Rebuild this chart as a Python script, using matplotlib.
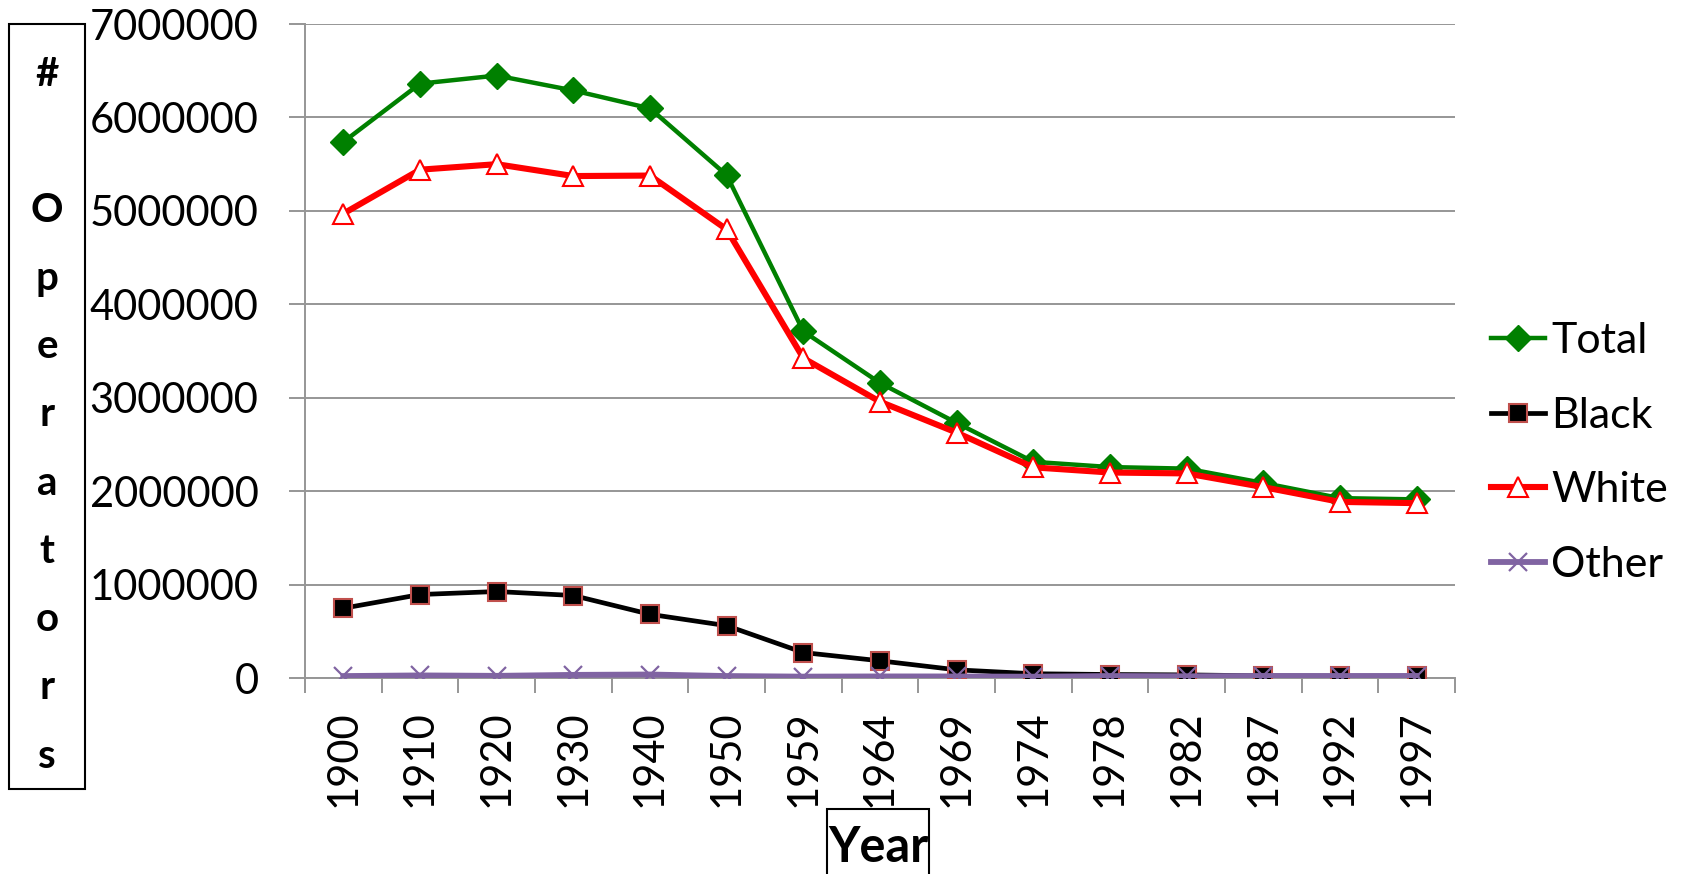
import numpy as np
import matplotlib
matplotlib.use("Agg")
import matplotlib.pyplot as plt
from matplotlib.patches import Rectangle

plt.rcParams['font.family'] = ['Lato', 'DejaVu Sans']

# data
years = ['1900', '1910', '1920', '1930', '1940', '1950', '1959', '1964',
         '1969', '1974', '1978', '1982', '1987', '1992', '1997']
total = [5737372, 6361502, 6448343, 6288648, 6096799, 5382162, 3710503, 3157857,
         2730250, 2314013, 2257775, 2240976, 2087759, 1925300, 1911859]
black = [746717, 893370, 925708, 882850, 681790, 559980, 272541, 184004,
         87393, 45594, 37351, 33250, 22954, 18816, 18451]
white = [4970129, 5440619, 5499707, 5372578, 5377728, 4801243, 3423365, 2957130,
         2626405, 2254642, 2199356, 2189570, 2043119, 1884964, 1871574]
other = [20526, 27513, 22928, 33220, 37281, 20939, 14597, 16723,
         16452, 13777, 21068, 18156, 21686, 21520, 21834]
yticks = [0, 1000000, 2000000, 3000000, 4000000, 5000000, 6000000, 7000000]

W, H = 1682, 874
fig = plt.figure(figsize=(W / 100, H / 100), dpi=100)
ax = fig.add_axes([305 / W, 1 - 678 / H, 1150 / W, 654 / H])

x = np.arange(len(years))
grid_c = '#969696'

ax.plot(x, total, color='#008000', lw=3.2, marker='D', ms=13, mfc='#008000',
        mec='#008000', label='Total', zorder=3)
ax.plot(x, black, color='black', lw=3.4, marker='s', ms=13, mfc='black',
        mec='#c0504d', mew=1.5, label='Black', zorder=3)
ax.plot(x, white, color='#ff0000', lw=4.4, marker='^', ms=14, mfc='white',
        mec='#ff0000', mew=1.5, label='White', zorder=4)
ax.plot(x, other, color='#8064a2', lw=4.2, marker='x', ms=13, mec='#8064a2',
        mew=1.6, label='Other', zorder=4)

ax.set_xlim(-0.5, len(years) - 0.5)
ax.set_ylim(0, 7000000)
ax.set_yticks(yticks)
ax.set_yticklabels([str(v) for v in yticks])
ax.set_xticks(x)
ax.set_xticklabels(years, rotation=90)
ax.set_xticks(np.arange(-0.5, len(years)), minor=True)

ax.grid(axis='y', color=grid_c, lw=1.4, zorder=0)
ax.set_axisbelow(True)
for s in ['top', 'right']:
    ax.spines[s].set_visible(False)
for s in ['left', 'bottom']:
    ax.spines[s].set_color(grid_c)
    ax.spines[s].set_linewidth(1.4)

ax.tick_params(axis='y', length=11.5, width=1.4, color=grid_c, pad=22,
               labelsize=30)
ax.tick_params(axis='x', which='major', length=0, pad=23, labelsize=30)
ax.tick_params(axis='x', which='minor', length=11, width=1.4, color=grid_c)

# y label: stacked letters in a box
fig.patches.append(Rectangle((9 / W, 1 - 789 / H), 76 / W, 765 / H,
                             transform=fig.transFigure, fill=False,
                             ec='black', lw=1.5))
for i, ch in enumerate("# Operators"):
    fig.text(47 / W, 1 - (74 + i * 68.2) / H, ch, ha='center', va='center',
             fontsize=29, fontweight='bold')

# x label box
fig.patches.append(Rectangle((827 / W, -0.05), 102 / W, 1 - 809 / H + 0.05,
                             transform=fig.transFigure, fill=False,
                             ec='black', lw=1.5))
fig.text(878 / W, 1 - 848 / H, 'Year', ha='center', va='center',
         fontsize=35, fontweight='bold')

fig.legend(loc='center left', bbox_to_anchor=(1491 / W, 1 - 453 / H),
           frameon=False, fontsize=31, handlelength=1.25, handletextpad=0.15,
           labelspacing=0.85, borderpad=0, borderaxespad=0)

fig.savefig('out.png', dpi=100)
